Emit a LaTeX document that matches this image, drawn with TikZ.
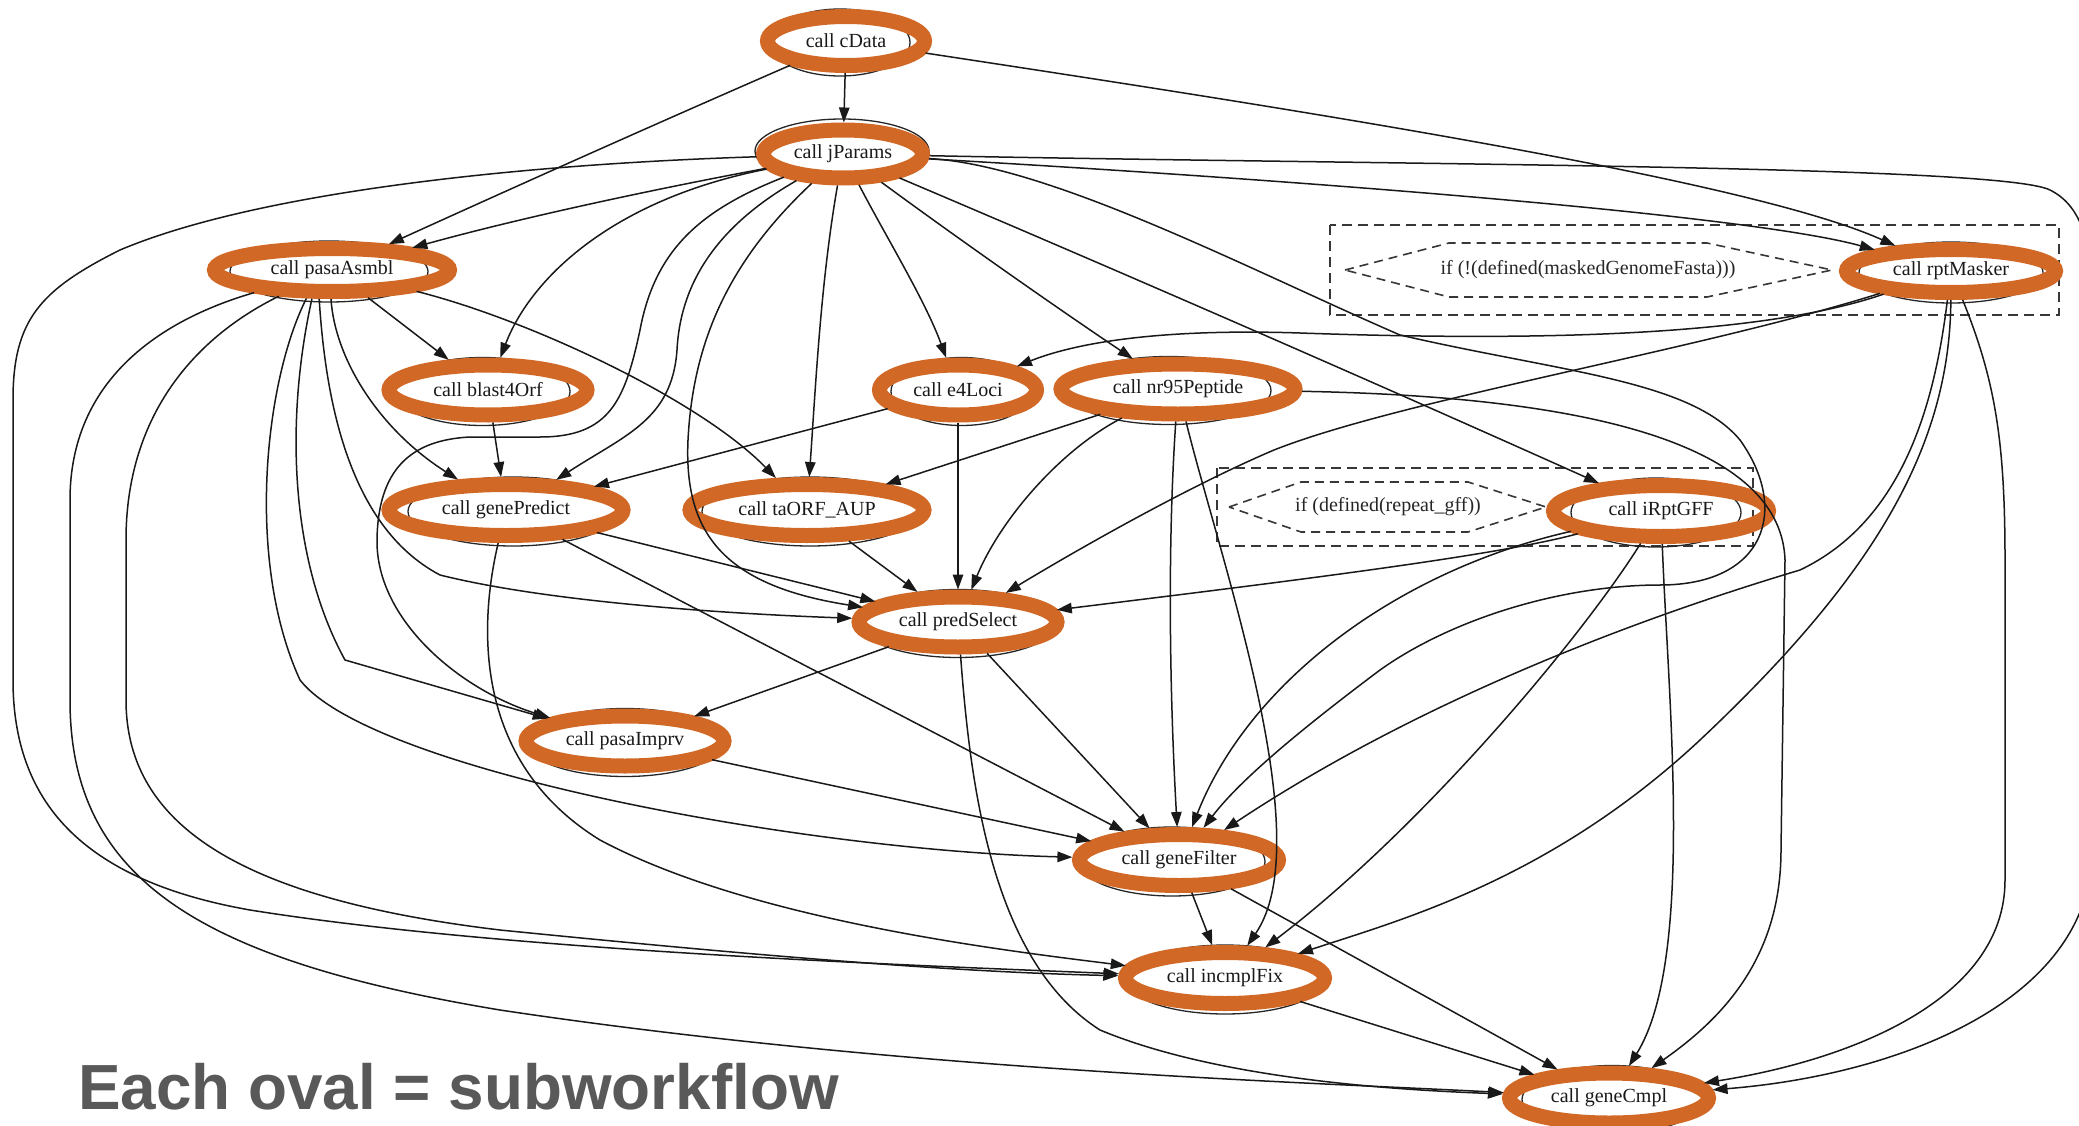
\documentclass[tikz,border=0pt]{standalone}
\usepackage{fontspec}
\setmainfont{Liberation Serif}
\newfontfamily\capfont{Liberation Sans}
\usetikzlibrary{shapes.geometric,arrows.meta}
\definecolor{ring}{RGB}{210,104,38}
\definecolor{capgray}{RGB}{89,89,89}
\definecolor{dashgray}{RGB}{55,55,55}

\tikzset{
  wf/.style={ellipse, draw=ring, line width=15pt, inner sep=2pt,
    font=\fontsize{20}{24}\selectfont, text=black!90},
  rim/.style={draw=black!85, line width=1.3pt},
  flow/.style={draw=black!90, line width=1.5pt, -{Triangle[length=15pt,width=10.5pt]}},
  clusterbox/.style={draw=dashgray, line width=1.8pt, dash pattern=on 10pt off 6pt},
  guard/.style={draw=dashgray, line width=1.6pt, dash pattern=on 9pt off 6pt},
  guardtext/.style={font=\fontsize{20}{24}\selectfont, text=black!85, inner sep=0pt},
}

% [extra style]{name}{x}{y}{outer width}{outer height}{label}{rim shift}{rim x-radius}
\newcommand\wfcall[9][]{%
  \draw[rim] ({#3+(#8)},{#4+1.5}) ellipse [x radius=#9pt, y radius={(#6/2+1.5)*1pt}];
  \node[wf, minimum width={(#5-15)*1pt}, minimum height={(#6-15)*1pt}, #1] (#2) at (#3,#4) {#7};}

\begin{document}
\begin{tikzpicture}[x=1pt, y=-1pt]
\useasboundingbox (0,0) rectangle (2079,1126);
\clip (0,0) rectangle (2079,1126);
\fill[white] (0,0) rectangle (2079,1126);

% conditional clusters
\draw[clusterbox] (1330,225) rectangle (2059,315);
\draw[guard] (1345,270) -- (1449,243) -- (1707,243) -- (1832,270) -- (1707,297) -- (1449,297) -- cycle;
\node[guardtext] (condMask) at (1588,270) {if (!(defined(maskedGenomeFasta)))};

\draw[clusterbox] (1217,468) rectangle (1753,546);
\draw[guard] (1229,507) -- (1301,482) -- (1468,482) -- (1546,507) -- (1468,532) -- (1301,532) -- cycle;
\node[guardtext] (condRep) at (1388,507) {if (defined(repeat\_gff))};

% subworkflow calls
\wfcall{cD}{846}{41}{172}{64}{call cData}{-6}{70}
\draw[rim] (842,151) ellipse [x radius=87pt, y radius=32pt];
\node[wf, minimum width=159pt, minimum height=48pt] (jP) at (843,154) {call jParams};
\wfcall{pA}{332}{270}{250}{58}{call pasaAsmbl}{-3}{99}
\wfcall{b4}{488}{390}{213}{65}{call blast4Orf}{-5.5}{87.5}
\wfcall{e4}{958}{390}{172}{65}{call e4Loci}{3.5}{70.5}
\wfcall{nr}{1178}{389}{249}{65}{call nr95Peptide}{-9.5}{102.5}
\wfcall{gP}{506}{510}{249}{66}{call genePredict}{7}{105}
\wfcall{tO}{807}{510}{249}{66}{call taORF\_AUP}{3}{108}
\wfcall{iR}{1661}{511}{230}{66}{call iRptGFF}{-5}{85}
\wfcall{rM}{1951}{271}{224}{58}{call rptMasker}{0}{92}
\wfcall{pS}{958}{622}{213}{65}{call predSelect}{0}{98}
\wfcall{pI}{625}{741}{213}{65}{call pasaImprv}{0}{98}
\wfcall{gF}{1179}{860}{214}{66}{call geneFilter}{-7}{93}
\wfcall{iF}{1225}{978}{214}{66}{call incmplFix}{0}{99}
\wfcall{gC}{1609}{1098}{214}{65}{call geneCmpl}{3}{90}

% dependencies
% cData
\draw[flow] (cD) -- (jP);
\draw[flow] (cD) .. controls (660,122) and (530,180) .. (pA);
\draw[flow] (cD) .. controls (1300,110) and (1750,180) .. (rM);

% jParams
\draw[flow] (jP) .. controls (650,190) and (520,218) .. (pA);
\draw[flow] (jP) .. controls (610,200) and (530,280) .. (b4);
\draw[flow] (jP) .. controls (710,230) and (680,290) .. (677,350)
   .. controls (672,420) and (625,435) .. (gP.31);
\draw[flow] (jP) .. controls (700,210) and (655,250) .. (640,330)
   .. controls (625,400) and (610,437) .. (540,437) -- (470,437)
   .. controls (410,440) and (378,470) .. (377,540)
   .. controls (376,620) and (460,690) .. (pI);
\draw[flow] (jP) .. controls (730,260) and (693,340) .. (688,440)
   .. controls (684,530) and (720,585) .. (pS);
\draw[flow] (jP) .. controls (821,280) and (816,380) .. (tO);
\draw[flow] (jP) .. controls (885,235) and (925,300) .. (e4);
\draw[flow] (jP) .. controls (960,240) and (1060,310) .. (nr);
\draw[flow] (jP) .. controls (1140,280) and (1380,385) .. (iR);
\draw[flow] (jP) .. controls (1300,180) and (1750,215) .. (rM);
\draw[flow] (jP) .. controls (1400,165) and (2000,165) .. (2050,190)
   .. controls (2080,205) and (2092,240) .. (2092,300) -- (2092,850)
   .. controls (2092,1000) and (1900,1075) .. (gC);
\draw[flow] (jP) .. controls (1050,165) and (1250,270) .. (1400,335)
   .. controls (1560,372) and (1690,380) .. (1740,440)
   .. controls (1790,510) and (1765,585) .. (1660,585)
   .. controls (1560,585) and (1450,620) .. (1380,670)
   .. controls (1300,730) and (1240,780) .. (gF);
\draw[flow] (jP) .. controls (500,165) and (250,195) .. (120,250)
   .. controls (40,290) and (13,320) .. (13,400) -- (13,680)
   .. controls (13,800) and (80,880) .. (250,910)
   .. controls (500,950) and (900,965) .. (iF);

% pasaAsmbl
\draw[flow] (pA) -- (b4);
\draw[flow] (pA.-92) .. controls (335,360) and (380,430) .. (gP);
\draw[flow] (pA) .. controls (530,320) and (700,400) .. (tO);
\draw[flow] (pA.-114) .. controls (325,390) and (345,525) .. (440,575)
   .. controls (560,605) and (760,615) .. (pS);
\draw[flow] (pA.-125) .. controls (285,420) and (290,560) .. (345,660) -- (pI);
\draw[flow] (pA.-132) .. controls (265,380) and (245,560) .. (300,680)
   .. controls (370,770) and (800,850) .. (gF);
\draw[flow] (pA) .. controls (190,340) and (126,420) .. (126,540) -- (126,700)
   .. controls (126,830) and (250,900) .. (500,930)
   .. controls (750,955) and (950,972) .. (iF);
\draw[flow] (pA) .. controls (160,320) and (70,380) .. (70,500) -- (70,700)
   .. controls (70,880) and (200,960) .. (500,1010)
   .. controls (900,1070) and (1300,1082) .. (gC);

% blast4Orf, e4Loci, nr95Peptide
\draw[flow] (b4) -- (gP);
\draw[flow] (e4) -- (gP);
\draw[flow] (e4) -- (pS);
\draw[flow] (nr) -- (tO);
\draw[flow] (nr) .. controls (1060,450) and (1000,520) .. (pS);
\draw[flow] (nr) .. controls (1167,550) and (1170,700) .. (gF);
\draw[flow] (nr) .. controls (1220,560) and (1320,840) .. (iF);
\draw[flow] (nr) .. controls (1500,395) and (1780,420) .. (1785,560) -- (1781,850)
   .. controls (1781,960) and (1720,1020) .. (gC);

% genePredict, taORF_AUP
\draw[flow] (gP) -- (pS);
\draw[flow] (gP) -- (gF);
\draw[flow] (gP) .. controls (480,620) and (470,760) .. (600,840)
   .. controls (750,920) and (1000,950) .. (iF);
\draw[flow] (tO) -- (pS);

% iRptGFF
\draw[flow] (iR) .. controls (1500,555) and (1300,580) .. (pS);
\draw[flow] (iR) .. controls (1400,570) and (1250,680) .. (gF);
\draw[flow] (iR) .. controls (1580,640) and (1420,830) .. (iF);
\draw[flow] (iR) .. controls (1668,700) and (1695,960) .. (gC);

% rptMasker
\draw[flow] (rM) .. controls (1750,340) and (1500,340) .. (1300,333)
   .. controls (1150,328) and (1070,345) .. (e4);
\draw[flow] (rM) .. controls (1700,350) and (1400,400) .. (1274,450)
   .. controls (1180,490) and (1060,560) .. (pS);
\draw[flow] (rM) .. controls (1935,400) and (1905,520) .. (1800,570)
   .. controls (1700,600) and (1450,680) .. (gF);
\draw[flow] (rM) .. controls (1950,450) and (1870,580) .. (1700,740)
   .. controls (1550,880) and (1400,920) .. (iF);
\draw[flow] (rM) .. controls (1995,380) and (2005,440) .. (2005,560) -- (2005,880)
   .. controls (2005,1000) and (1850,1060) .. (gC);

% predSelect onwards
\draw[flow] (pS) -- (pI);
\draw[flow] (pS) -- (gF);
\draw[flow] (pS) .. controls (970,780) and (990,960) .. (1100,1030)
   .. controls (1220,1080) and (1400,1090) .. (gC);
\draw[flow] (pI) -- (gF);
\draw[flow] (gF) -- (iF);
\draw[flow] (gF) -- (gC);
\draw[flow] (iF) -- (gC);

% caption
\node[anchor=base west, inner sep=0pt, text=capgray,
  font=\capfont\bfseries\fontsize{63.8}{70}\selectfont] (caption) at (78,1109) {Each oval = subworkflow};
\end{tikzpicture}
\end{document}
